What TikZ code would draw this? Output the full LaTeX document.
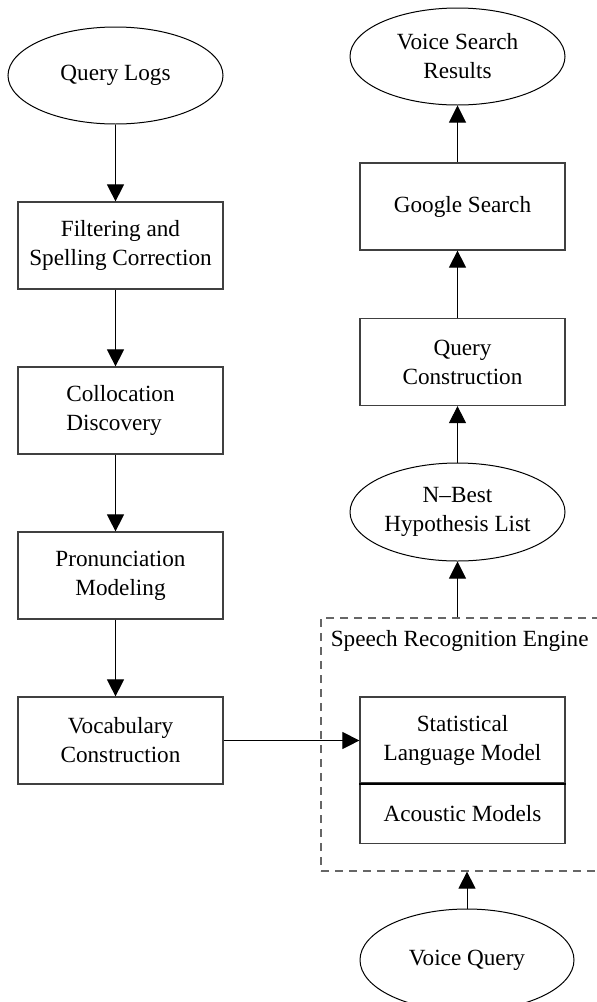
\documentclass[tikz,border=0pt]{standalone}
\usepackage{fontspec}
\setmainfont{Liberation Serif}
\usetikzlibrary{positioning, arrows.meta, shapes.geometric}

\begin{document}
\begin{tikzpicture}[
    x=0.5pt, y=-0.5pt,
    font=\fontsize{11.6}{14.5}\selectfont,
    block/.style={
        rectangle,
        draw=black!75,
        line width=0.6pt,
        align=center,
        minimum width=102.5pt,
        minimum height=43.5pt,
        inner sep=0pt
    },
    term/.style={
        ellipse,
        draw=black,
        line width=0.5pt,
        align=center,
        minimum width=107.5pt,
        minimum height=48.5pt,
        inner sep=0pt
    },
    arrow/.style={
        line width=0.5pt,
        -{Triangle[length=8.5pt, width=8.5pt]}
    },
    engine/.style={
        rectangle, draw=black!60, dash pattern=on 4pt off 3pt,
        line width=0.6pt,
        minimum width=150pt, minimum height=126.5pt
    },
    divider/.style={line width=1.1pt}
]

% Frame
\useasboundingbox (0,0) rectangle (596,1002);

% Vocabulary side
\node[term] (logs) at (115.5,75.5) {Query Logs};
\node[block] (filter) at (120.5,245.5) {Filtering and\\Spelling Correction};
\node[block, align=left] (colloc) at (120.5,410.5) {Collocation\\Discovery};
\node[block] (pron) at (120.5,575.5) {Pronunciation\\Modeling};
\node[block] (vocab) at (120.5,740.5) {Vocabulary\\Construction};

% Recognition side
\node[term] (results) at (457.5,56.5) {Voice Search\\Results};
\node[block] (google) at (462.5,206.5) {Google Search};
\node[block] (qconst) at (462.5,362) {Query\\Construction};
\node[term, minimum height=49pt] (nbest) at (457.5,512) {N--Best\\Hypothesis List};
\node[engine] (engine) at (471,744.5) {};
\node[anchor=base west, inner sep=0pt] (enginelbl) at ([xshift=5pt, yshift=-14.5pt]engine.north west) {Speech Recognition Engine};
\node[block, minimum height=43pt] (slm) at (462.5,740) {Statistical\\Language Model};
\node[block, minimum height=29.5pt, below=0pt of slm] (acoustic) {Acoustic Models};
\node[term, minimum width=107pt, minimum height=51pt] (vquery) at (467,960) {Voice Query};

% Arrows
\draw[arrow] (logs) -- (logs |- filter.north);
\draw[arrow] (filter.south -| logs) -- (colloc.north -| logs);
\draw[arrow] (colloc.south -| logs) -- (pron.north -| logs);
\draw[arrow] (pron.south -| logs) -- (vocab.north -| logs);
\draw[arrow] (vocab.east) -- (vocab.east -| slm.west);
\draw[divider] (slm.south west) -- (slm.south east);

\draw[arrow] (vquery) -- (vquery |- engine.south);
\draw[arrow] (engine.north -| nbest) -- (nbest);
\draw[arrow] (nbest) -- (nbest |- qconst.south);
\draw[arrow] (qconst.north -| results) -- (google.south -| results);
\draw[arrow] (google.north -| results) -- (results);
\end{tikzpicture}
\end{document}
